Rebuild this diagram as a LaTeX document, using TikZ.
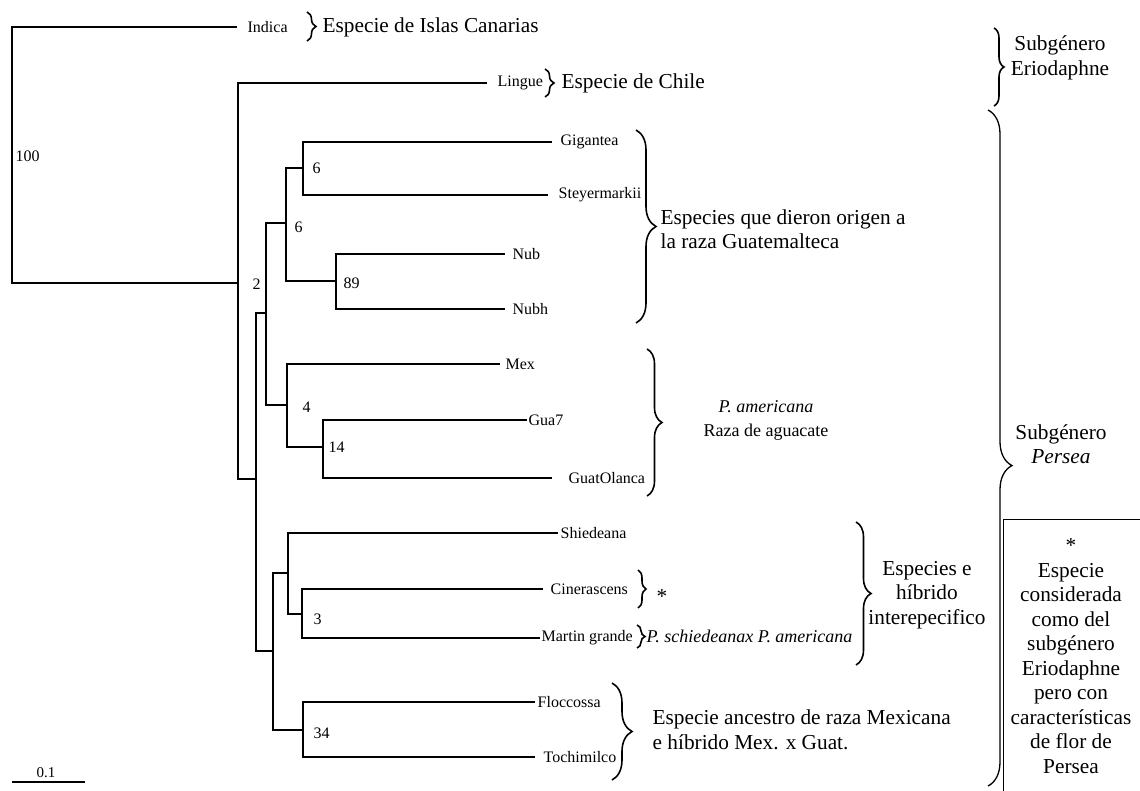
\documentclass[tikz,border=0pt]{standalone}
\usepackage{fontspec}
\setmainfont{Liberation Serif}
\usetikzlibrary{decorations.pathreplacing}

\begin{document}
\begin{tikzpicture}[x=1pt,y=-1pt,line width=1.3pt,
		taxon/.style={anchor=west,inner xsep=#1,inner ysep=0pt,font=\fontsize{16}{18}\selectfont},
		taxon/.default=3pt,
		boot/.style={anchor=west,inner sep=0pt,font=\fontsize{16}{18}\selectfont},
		note/.style={inner sep=0pt,font=\fontsize{21.3}{24.5}\selectfont},
		smallnote/.style={inner sep=0pt,font=\fontsize{18}{24}\selectfont},
		llave/.style={decorate,decoration={brace,amplitude=#1}},
		llave/.default=9pt]
	\useasboundingbox (0,0) rectangle (1140,791);
	\coordinate (r) at (12,156);
	\coordinate (n1) at (238,283);
	\coordinate (n2) at (256,479);
	\coordinate (n3) at (266,313);
	\coordinate (n4) at (286,223);
	\coordinate (n5) at (303,168);
	\coordinate (n5b) at (336,281);
	\coordinate (n6) at (287,405);
	\coordinate (n6b) at (323,447);
	\coordinate (n7) at (273,651);
	\coordinate (n8) at (288,573);
	\coordinate (n8b) at (302,614);
	\coordinate (n9) at (303,730);
	\node[taxon=10pt] (indica) at (237,27) {Indica};
	\node[taxon=10pt] (lingue) at (487,83) {Lingue};
	\node[taxon=8pt] (gigantea) at (552,142) {Gigantea};
	\node[taxon=10pt] (steyer) at (548,195) {Steyermarkii};
	\node[taxon=7pt] (nub) at (505,254) {Nub};
	\node[taxon=7pt] (nubh) at (505,309) {Nubh};
	\node[taxon=5pt] (mex) at (500,364) {Mex};
	\node[taxon=1pt] (gua7) at (527,420) {Gua7};
	\node[taxon=16pt] (olanca) at (552,478) {GuatOlanca};
	\node[taxon=2pt] (shiedeana) at (558,533) {Shiedeana};
	\node[taxon=7pt] (cinerascens) at (543,589) {Cinerascens};
	\node[taxon=1pt] (martin) at (540,638) {Martin grande};
	\node[taxon=2pt] (floccossa) at (535,702) {Floccossa};
	\node[taxon=8pt] (tochimilco) at (535,757) {Tochimilco};
	\foreach \a/\b in {r/indica,r/n1,n1/lingue,n1/n2,n2/n3,n2/n7,n3/n4,n3/n6,n4/n5,n4/n5b,
			n5/gigantea,n5/steyer,n5b/nub,n5b/nubh,n6/mex,n6/n6b,n6b/gua7,n6b/olanca,
			n7/n8,n7/n9,n8/shiedeana,n8/n8b,n8b/cinerascens,n8b/martin,n9/floccossa,n9/tochimilco}
		\draw (\a) |- (\b);
	\node[boot] (b100) at (15,156) {100};
	\node[boot] (b2) at (252,284) {2};
	\node[boot] (b6a) at (294,227) {6};
	\node[boot] (b6b) at (312,168) {6};
	\node[boot] (b89) at (343,283) {89};
	\node[boot] (b4) at (302,407) {4};
	\node[boot] (b14) at (328,447) {14};
	\node[boot] (b3) at (313,619) {3};
	\node[boot] (b34) at (313,733) {34};
	\draw[llave,line width=1.6pt] (307,12) -- (307,41);
	\node[note,anchor=west] (canarias) at (322,27) {Especie de Islas Canarias};
	\draw[llave,line width=1.6pt] (545,69) -- (545,97);
	\node[note,anchor=west] (chile) at (561,83) {Especie de Chile};
	\draw[llave=20pt,line width=1.6pt] (636,130) -- (636,323);
	\node[note,anchor=west,align=left] (guate) at (660,229) {Especies que dieron origen a\\la raza Guatemalteca};
	\draw[llave=15pt,line width=1.6pt] (647,349) -- (647,496);
	\node[smallnote,align=center] (americana) at (766,420) {\textit{P. americana}\\Raza de aguacate};
	\draw[llave=8pt,line width=1.6pt] (638,570) -- (638,608);
	\node[note] (ast) at (662,597) {*};
	\draw[llave=8pt,line width=1.6pt] (637,625) -- (637,648);
	\node[smallnote,anchor=west] (hibrido) at (646,636) {\textit{P. schiedeanax P. americana}};
	\draw[llave=15pt,line width=1.6pt] (856,522) -- (856,665);
	\node[note,align=center] (especies) at (927,595) {Especies e\\híbrido\\interepecifico};
	\draw[llave=20pt,line width=1.6pt] (612,683) -- (612,780);
	\node[note,anchor=west,align=left] (mexicana) at (652,730) {Especie ancestro de raza Mexicana\\e híbrido Mex. x Guat.};
	\draw[llave=10pt,line width=1.6pt] (994,28) -- (994,106);
	\node[note,align=center] (eriodaphne) at (1060,58) {Subgénero\\Eriodaphne};
	\draw[decorate,decoration={brace,amplitude=24pt,aspect=0.526}] (988,110) -- (988,786);
	\node[note,align=center] (persea) at (1061,444) {Subgénero\\\textit{Persea}};
	\draw[line width=1pt] (1003,791) |- (1140,519);
	\node[note,align=center] (nota) at (1071,656) {*\\Especie\\considerada\\como del\\subgénero\\Eriodaphne\\pero con\\características\\de flor de\\Persea};
	\coordinate (e1) at (12,782);
	\coordinate (e2) at (85,782);
	\draw[line width=1.2pt] (e1) -- (e2);
	\node[inner sep=0pt,font=\fontsize{15}{17}\selectfont] (escala) at (46,773) {0.1};
\end{tikzpicture}
\end{document}
